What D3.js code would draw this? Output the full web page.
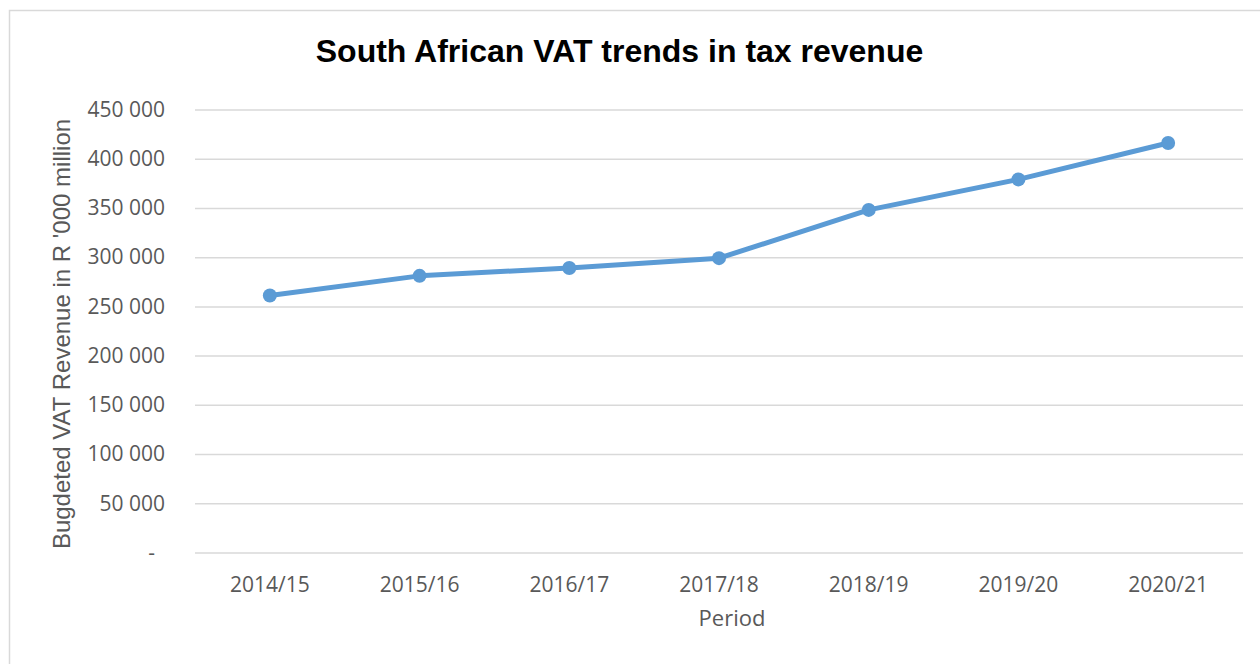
<!DOCTYPE html>
<head>
  <meta charset="utf-8">
  <script src="https://d3js.org/d3.v7.min.js"></script>
  <style>
    body { margin:0; background:#fff; }
    text { fill:#595959; }
  </style>
</head>
<body>
  <script>
    var width = 1260,
        height = 664;

    // data
    var periods = ["2014/15", "2015/16", "2016/17", "2017/18", "2018/19", "2019/20", "2020/21"];
    var revenue = [261000, 281000, 289000, 299000, 348000, 379000, 416000];
    var yTicks = [0, 50000, 100000, 150000, 200000, 250000, 300000, 350000, 400000, 450000];

    var svg = d3.select("body").append("svg")
      .attr("width", width)
      .attr("height", height);

    // chart frame
    svg.append("rect")
      .attr("x", 9.5).attr("y", 10.5)
      .attr("width", 1300).attr("height", 700)
      .style("fill", "none")
      .style("stroke", "#d9d9d9")
      .style("stroke-width", 1.5);

    var x = d3.scaleBand().domain(periods).range([195, 1243]);
    var y = d3.scaleLinear().domain([0, 450000]).range([552.5, 109.5]);

    // gridlines + y labels
    var yAxis = d3.axisLeft(y)
      .tickValues(yTicks)
      .tickSize(-(1243 - 195))
      .tickPadding(30)
      .tickFormat(function(d) { return d === 0 ? "-" : d3.format(",")(d).replace(/,/g, " "); });

    var gy = svg.append("g")
      .attr("transform", "translate(195,0)")
      .call(yAxis);
    gy.select(".domain").remove();
    gy.selectAll("line").style("stroke", "#d9d9d9").style("stroke-width", 1.5);
    gy.selectAll("text")
      .style("font-family", "'Open Sans', sans-serif")
      .style("font-size", "21px")
      .style("fill", "#595959")
      .attr("dx", function(d) { return d === 0 ? -10 : 0; });

    // x labels
    var gx = svg.append("g")
      .attr("transform", "translate(0,552.5)")
      .call(d3.axisBottom(x).tickSize(0).tickPadding(25));
    gx.select(".domain").remove();
    gx.selectAll("text")
      .style("font-family", "'Open Sans', sans-serif")
      .style("font-size", "21px")
      .style("fill", "#595959");

    // series line
    var line = d3.line()
      .x(function(d, i) { return x(periods[i]) + x.bandwidth() / 2; })
      .y(function(d) { return y(d); });

    svg.append("path")
      .datum(revenue)
      .attr("d", line)
      .style("fill", "none")
      .style("stroke", "#5b9bd5")
      .style("stroke-width", 5)
      .style("stroke-linejoin", "round");

    svg.selectAll("circle.pt")
      .data(revenue)
      .enter()
      .append("circle")
      .attr("class", "pt")
      .attr("cx", function(d, i) { return x(periods[i]) + x.bandwidth() / 2; })
      .attr("cy", function(d) { return y(d); })
      .attr("r", 7)
      .style("fill", "#5b9bd5");

    // titles
    svg.append("text")
      .attr("x", 619.5).attr("y", 62)
      .attr("text-anchor", "middle")
      .style("font-family", "'Liberation Sans', Arial, sans-serif")
      .style("font-weight", "bold")
      .style("font-size", "32px")
      .style("fill", "#000")
      .text("South African VAT trends in tax revenue");

    svg.append("text")
      .attr("x", 732).attr("y", 626)
      .attr("text-anchor", "middle")
      .style("font-family", "'Open Sans', sans-serif")
      .style("font-size", "22px")
      .text("Period");

    svg.append("text")
      .attr("transform", "translate(70,334) rotate(-90)")
      .attr("text-anchor", "middle")
      .style("font-family", "'Liberation Sans', Arial, sans-serif")
      .style("font-size", "24px")
      .text("Bugdeted VAT Revenue in R '000 million");
  </script>
</body>
